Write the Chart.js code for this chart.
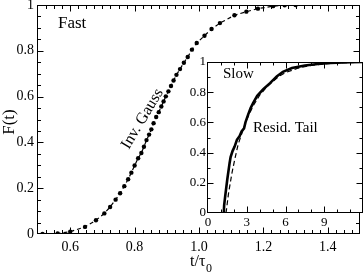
<!DOCTYPE html>
<html><head><meta charset="utf-8">
<script src="https://cdn.jsdelivr.net/npm/chart.js@4/dist/chart.umd.min.js"></script>
<style>
html,body{margin:0;padding:0;background:#fff;}
#wrap{position:relative;width:364px;height:273px;overflow:hidden;}
canvas{position:absolute;left:0;top:0;}
</style></head><body>
<div id="wrap"><canvas id="main" width="364" height="273"></canvas><canvas id="inset" width="364" height="273"></canvas></div>
<script>
// ---- data ----
const fastT = [0.514,0.561,0.600,0.646,0.680,0.706,0.724,0.741,0.755,0.768,0.780,0.790,0.800,0.811,0.821,0.829,0.837,0.845,0.852,0.859,0.867,0.875,0.883,0.890,0.897,0.905,0.913,0.921,0.930,0.941,0.953,0.965,0.978,0.993,1.017,1.039,1.065,1.110,1.147,1.183,1.230,1.266,1.300];
const fastF = [0.000,0.002,0.010,0.031,0.060,0.090,0.118,0.150,0.178,0.209,0.239,0.268,0.299,0.331,0.354,0.381,0.410,0.434,0.457,0.484,0.511,0.532,0.557,0.579,0.601,0.623,0.646,0.670,0.695,0.720,0.748,0.773,0.805,0.834,0.866,0.895,0.921,0.955,0.971,0.984,0.995,0.999,1.000];
const slowEmpT = [1.22,1.25,1.33,1.49,1.67,1.75,1.90,2.06,2.24,2.45,2.60,2.79,2.90,3.10,3.30,3.49,3.81,4.28,4.80,5.32,5.80,6.50,7.50,8.50,9.50,11.0,12.0];
const slowEmpF = [0.000,0.050,0.110,0.220,0.330,0.370,0.410,0.440,0.485,0.510,0.540,0.560,0.600,0.650,0.695,0.727,0.776,0.820,0.860,0.904,0.935,0.960,0.977,0.987,0.993,0.998,1.000];
const slowFitT = [1.35,1.41,1.59,1.85,2.06,2.32,2.63,3.00,3.50,4.00,4.50,5.00,5.50,6.00,7.00,8.00,9.00,10.0,12.0];
const slowFitF = [0.000,0.010,0.130,0.263,0.350,0.450,0.530,0.620,0.710,0.780,0.830,0.870,0.905,0.930,0.960,0.978,0.988,0.994,0.999];
const mainXTicks = [0.6,0.8,1.0,1.2,1.4];
const mainYTicks = [0,0.2,0.4,0.6,0.8,1];
const insetXTicks = [0,3,6,9];
const insetYTicks = [0,0.2,0.4,0.6,0.8,1];

const SERIF = "'Liberation Serif','Times New Roman',serif";
Chart.defaults.color = '#000';

function pairs(xs, ys){ return xs.map((x,i)=>({x:x, y:ys[i]})); }
function range(a,b,s){ const r=[]; const n=Math.round((b-a)/s); for(let i=0;i<=n;i++) r.push(+(a+i*s).toFixed(6)); return r; }
function fmtY(v){ return (v===0||v===1)? String(v) : v.toFixed(1); }

const frameTicks = {
  id:'frameTicks',
  beforeDraw(chart, args, o){
    if(!o.fill) return;
    const a = chart.chartArea, c = chart.ctx;
    c.save(); c.fillStyle='#fff'; c.fillRect(a.left, a.top, a.right-a.left, a.bottom-a.top); c.restore();
  },
  afterDatasetsDraw(chart, args, o){
    const a = chart.chartArea, c = chart.ctx, xs = chart.scales.x, ys = chart.scales.y;
    const L = Math.round(a.left)-0.5, R = Math.round(a.right)-0.5, T = Math.round(a.top)+0.5, B = Math.round(a.bottom)-0.5;
    c.save();
    c.strokeStyle='#000'; c.lineWidth=1;
    c.beginPath();
    const tick = (v, len, axis) => {
      if(axis==='x'){
        const p = Math.round(xs.getPixelForValue(v))+0.5;
        if(p<=L+1||p>=R-1) return;
        c.moveTo(p,B); c.lineTo(p,B-len); c.moveTo(p,T); c.lineTo(p,T+len);
      } else {
        const p = Math.round(ys.getPixelForValue(v))+0.5;
        if(p<=T+1||p>=B-1) return;
        c.moveTo(L,p); c.lineTo(L+len,p); c.moveTo(R,p); c.lineTo(R-len,p);
      }
    };
    o.xMinor.forEach(v=>tick(v,o.minorLen,'x'));
    o.xMajor.forEach(v=>tick(v,o.majorLen,'x'));
    o.yMinor.forEach(v=>tick(v,o.minorLen,'y'));
    o.yMajor.forEach(v=>tick(v,o.majorLen,'y'));
    c.stroke();
    c.strokeRect(L, T, R-L, B-T);
    c.restore();
  },
  afterDraw(chart, args, o){
    if(o.texts) o.texts(chart.ctx, chart);
  }
};

function scaleOpts(ticksArr, fmt, size, pad, isY, fitSize, min, max){
  return {
    type:'linear', min:min, max:max,
    grid:{display:false, drawTicks:false}, border:{display:false},
    afterBuildTicks: s => { s.ticks = ticksArr.map(v=>({value:v})); },
    ticks:{ callback: v => fmt(v), font:{family:SERIF, size:size}, color:'#000', padding:pad, autoSkip:false, maxRotation:0 },
    afterFit: s => {
      if(isY){ s.width = fitSize; } else { s.height = fitSize; }
      s.paddingTop=0; s.paddingBottom=0; s.paddingLeft=0; s.paddingRight=0;
    }
  };
}

new Chart(document.getElementById('main'), {
  type:'scatter',
  data:{ datasets:[{
    data: pairs(fastT, fastF), showLine:true, borderColor:'#000', borderWidth:1.2, borderDash:[4,3],
    pointRadius:2.2, pointBackgroundColor:'#000', pointBorderWidth:0, tension:0
  }]},
  options:{
    responsive:false, animation:false, devicePixelRatio:1,
    layout:{padding:{left:0, top:5, right:1, bottom:0}},
    plugins:{ legend:{display:false}, tooltip:{enabled:false},
      frameTicks:{
        xMajor: mainXTicks, xMinor: range(0.5,1.5,0.025), yMajor: mainYTicks, yMinor: range(0,1,0.05),
        majorLen:6, minorLen:3.5,
        texts:(c)=>{
          c.save(); c.fillStyle='#000'; c.textBaseline='alphabetic';
          c.font = '17px '+SERIF; c.textAlign='left'; c.fillText('Fast', 58, 28);
          c.save(); c.translate(146,121); c.rotate(-59*Math.PI/180);
          c.font = '16px '+SERIF; c.textAlign='center'; c.fillText('Inv. Gauss', 0, 0); c.restore();
          c.save(); c.translate(14,122); c.rotate(-Math.PI/2);
          c.font = '17px '+SERIF; c.textAlign='center'; c.fillText('F(t)', 0, 0); c.restore();
          c.font = '16px '+SERIF; c.textAlign='left'; c.fillText('t/\u03c4', 190, 266);
          c.font = '12px '+SERIF; c.fillText('0', 206, 272);
          c.restore();
        }
      }
    },
    scales:{
      x: scaleOpts(mainXTicks, v=>v.toFixed(1), 14, 5, false, 39, 0.5, 1.5),
      y: scaleOpts(mainYTicks, fmtY, 14, 4, true, 38, 0, 1)
    }
  },
  plugins:[frameTicks]
});

new Chart(document.getElementById('inset'), {
  type:'scatter',
  data:{ datasets:[
    { data: pairs(slowEmpT, slowEmpF), showLine:true, borderColor:'#000', borderWidth:2.6, pointRadius:0, tension:0 },
    { data: pairs(slowFitT, slowFitF), showLine:true, borderColor:'#000', borderWidth:1.2, borderDash:[5,3], pointRadius:0, tension:0 }
  ]},
  options:{
    responsive:false, animation:false, devicePixelRatio:1,
    layout:{padding:{left:188, top:62, right:1, bottom:40}},
    plugins:{ legend:{display:false}, tooltip:{enabled:false},
      frameTicks:{
        fill:true,
        xMajor: insetXTicks, xMinor: range(0,12,1), yMajor: insetYTicks, yMinor: range(0,1,0.1),
        majorLen:6, minorLen:3,
        texts:(c)=>{
          c.save(); c.fillStyle='#000'; c.textBaseline='alphabetic'; c.textAlign='left';
          c.font = '15px '+SERIF; c.fillText('Slow', 223, 78);
          c.fillText('Resid. Tail', 253, 132);
          c.restore();
        }
      }
    },
    scales:{
      x: scaleOpts(insetXTicks, v=>String(v), 13, 2, false, 20, 0, 12),
      y: scaleOpts(insetYTicks, fmtY, 13, 2, true, 20, 0, 1)
    }
  },
  plugins:[frameTicks]
});
</script>
</body></html>
